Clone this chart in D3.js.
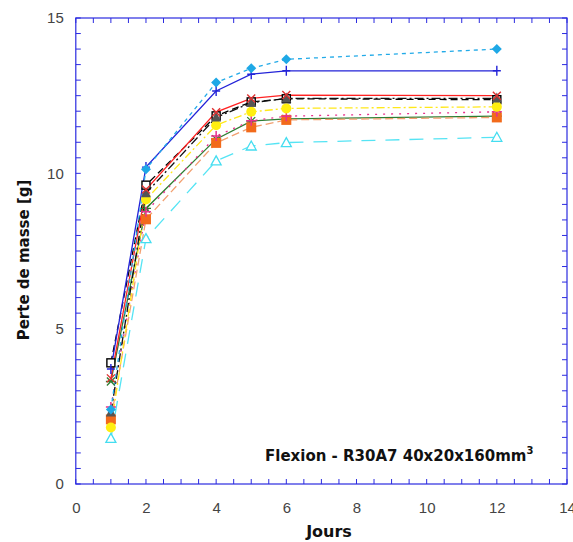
<!DOCTYPE html>
<html><head><meta charset="utf-8">
<script src="https://cdn.jsdelivr.net/npm/d3@7"></script>
<style>body{margin:0;background:#fff}svg{display:block}</style>
</head><body>
<svg id="c" width="573" height="542"></svg>
<script>
const days = [1, 2, 4, 5, 6, 12];
const sCyanDiamond = [2.4, 10.13, 12.92, 13.38, 13.67, 14.0];
const sBluePlus    = [3.7, 10.2, 12.65, 13.19, 13.3, 13.3];
const sBlackSquare = [3.9, 9.62, 11.85, 12.3, 12.4, 12.37];
const sRedX        = [3.4, 9.48, 11.97, 12.41, 12.52, 12.5];
const sGrayTri     = [2.3, 9.36, 11.8, 12.27, 12.41, 12.41];
const sYellowCirc  = [1.82, 9.16, 11.55, 11.98, 12.09, 12.14];
const sMagentaPlus = [2.48, 8.76, 11.2, 11.69, 11.84, 11.98];
const sGreenStar   = [3.3, 8.87, 11.1, 11.68, 11.75, 11.84];
const sOrangeSq    = [2.08, 8.52, 10.98, 11.48, 11.72, 11.8];
const sCyanTri     = [1.47, 7.9, 10.4, 10.88, 10.99, 11.16];
const xTicks = [0, 2, 4, 6, 8, 10, 12, 14];
const yTicks = [0, 5, 10, 15];

const series = [
  {v: sBlackSquare, line: "#000", dash: "7,4", mk: "sqOpen", mc: "#000"},
  {v: sGreenStar, line: "#2E7D32", dash: null, mk: "star", mc: "#2E7D32"},
  {v: sCyanTri, line: "#55E4F4", dash: "14,10", mk: "triOpen", mc: "#44DDF0"},
  {v: sOrangeSq, line: "#F2A070", dash: "8,4", mk: "sqFill", mc: "#F26A1B"},
  {v: sMagentaPlus, line: "#E8308C", dash: "2,6", mk: "plus", mc: "#E8308C"},
  {v: sYellowCirc, line: "#FFE81A", dash: "8,3,2,3", mk: "circ", mc: "#FFEE10"},
  {v: sGrayTri, line: "#111", dash: "9,3,2,3", mk: "triFill", mc: "#555"},
  {v: sRedX, line: "#FF2222", dash: null, mk: "x", mc: "#E03030"},
  {v: sBluePlus, line: "#2323D8", dash: null, mk: "vtick", mc: "#2323D8"},
  {v: sCyanDiamond, line: "#22AAE8", dash: "4,4", mk: "diam", mc: "#1EA8E6"}
];

const svg = d3.select("#c");
const x = d3.scaleLinear().domain([0, 14]).range([75.8, 567]);
const y = d3.scaleLinear().domain([0, 15]).range([484, 18]);
const axisColor = "#2B2BE0";

svg.append("rect").attr("x", x(0)).attr("y", y(15)).attr("width", x(14) - x(0)).attr("height", y(0) - y(15))
  .attr("fill", "none").attr("stroke", axisColor).attr("stroke-width", 1.2);

const minorX = d3.range(0, 14.01, 0.5);
const minorY = d3.range(0, 15.01, 0.5);
const tl = 5;
const gAx = svg.append("g").attr("stroke", axisColor).attr("stroke-width", 1);
minorX.forEach(t => {
  gAx.append("line").attr("x1", x(t)).attr("x2", x(t)).attr("y1", y(0)).attr("y2", y(0) - tl);
  gAx.append("line").attr("x1", x(t)).attr("x2", x(t)).attr("y1", y(15)).attr("y2", y(15) + tl);
});
minorY.forEach(t => {
  gAx.append("line").attr("y1", y(t)).attr("y2", y(t)).attr("x1", x(0)).attr("x2", x(0) + tl);
  gAx.append("line").attr("y1", y(t)).attr("y2", y(t)).attr("x1", x(14)).attr("x2", x(14) - tl);
});

const xAxis = d3.axisBottom(x).tickValues(xTicks).tickSize(0).tickPadding(18);
const yAxis = d3.axisLeft(y).tickValues(yTicks).tickSize(0).tickPadding(12);
const gx = svg.append("g").attr("transform", `translate(0,${y(0)})`).call(xAxis);
const gy = svg.append("g").attr("transform", `translate(${x(0)},0)`).call(yAxis);
[gx, gy].forEach(g => {
  g.select(".domain").remove();
  g.selectAll("text").attr("font-family", "Liberation Sans, Arial, sans-serif").attr("font-size", 15).attr("fill", "#444");
});

const line = d3.line().x((d, i) => x(days[i])).y(d => y(d));
const gL = svg.append("g");
series.forEach(s => {
  gL.append("path").datum(s.v).attr("d", line).attr("fill", "none")
    .attr("stroke", s.line).attr("stroke-width", 1.3)
    .attr("stroke-dasharray", s.dash);
});

const gM = svg.append("g");
function marker(g, mk, c, cx, cy) {
  const r = 4;
  if (mk === "sqOpen") g.append("rect").attr("x", cx - 4).attr("y", cy - 4).attr("width", 8).attr("height", 8).attr("fill", "#fff").attr("stroke", c).attr("stroke-width", 1.4);
  else if (mk === "sqFill") g.append("rect").attr("x", cx - 5).attr("y", cy - 5).attr("width", 10).attr("height", 10).attr("fill", c);
  else if (mk === "circ") g.append("circle").attr("cx", cx).attr("cy", cy).attr("r", 5).attr("fill", c);
  else if (mk === "triFill") g.append("path").attr("d", `M${cx},${cy - 6}L${cx + 5},${cy + 4}L${cx - 5},${cy + 4}Z`).attr("fill", c);
  else if (mk === "triOpen") g.append("path").attr("d", `M${cx},${cy - 5}L${cx + 5},${cy + 4}L${cx - 5},${cy + 4}Z`).attr("fill", "#fff").attr("stroke", c).attr("stroke-width", 1.3);
  else if (mk === "diam") g.append("path").attr("d", `M${cx},${cy - 5}L${cx + 5},${cy}L${cx},${cy + 5}L${cx - 5},${cy}Z`).attr("fill", c);
  else if (mk === "plus") g.append("path").attr("d", `M${cx - 5},${cy}H${cx + 5}M${cx},${cy - 5}V${cy + 5}`).attr("stroke", c).attr("stroke-width", 1.5);
  else if (mk === "vtick") g.append("path").attr("d", `M${cx - 4},${cy}H${cx + 4}M${cx},${cy - 5}V${cy + 5}`).attr("stroke", c).attr("stroke-width", 1.4);
  else if (mk === "x") g.append("path").attr("d", `M${cx - r},${cy - r}L${cx + r},${cy + r}M${cx - r},${cy + r}L${cx + r},${cy - r}`).attr("stroke", c).attr("stroke-width", 1.4);
  else if (mk === "star") g.append("path").attr("d", `M${cx - r},${cy - r}L${cx + r},${cy + r}M${cx - r},${cy + r}L${cx + r},${cy - r}M${cx - 5},${cy}H${cx + 5}`).attr("stroke", c).attr("stroke-width", 1.3);
}
series.forEach(s => {
  s.v.forEach((v, i) => marker(gM, s.mk, s.mc, x(days[i]), y(v)));
});

svg.append("text").attr("x", 329).attr("y", 537).attr("text-anchor", "middle")
  .attr("font-family", "DejaVu Sans, sans-serif").attr("font-weight", "bold").attr("font-size", 16).attr("fill", "#111").text("Jours");
svg.append("text").attr("transform", "translate(29,260) rotate(-90)").attr("text-anchor", "middle")
  .attr("font-family", "DejaVu Sans, sans-serif").attr("font-weight", "bold").attr("font-size", 15).attr("fill", "#111").text("Perte de masse [g]");
const ann = svg.append("text").attr("x", 265).attr("y", 461)
  .attr("font-family", "DejaVu Sans, sans-serif").attr("font-weight", "bold").attr("font-size", 15).attr("fill", "#111");
ann.append("tspan").text("Flexion - R30A7 40x20x160mm");
ann.append("tspan").attr("font-size", 10).attr("dy", -7).text("3");
</script>
</body></html>
